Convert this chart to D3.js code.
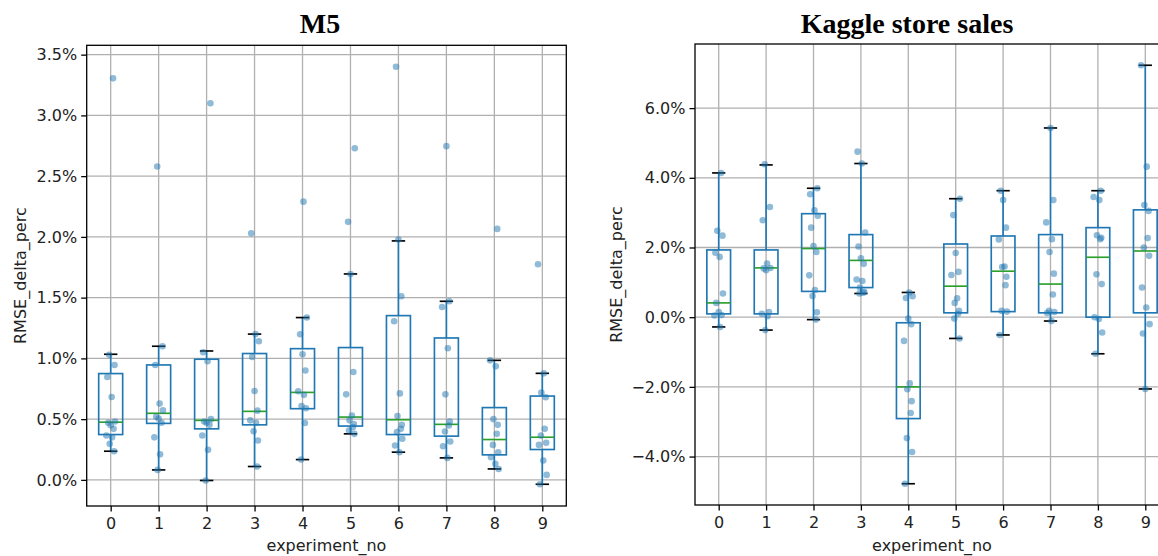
<!DOCTYPE html>
<html><head><meta charset="utf-8">
<script src="https://cdn.jsdelivr.net/npm/d3@7"></script>
<style>body{margin:0;background:#fff}</style>
</head><body><svg id="c" width="1158" height="556"></svg>
<script>
// ---------------- DATA ----------------
const experiments = [0,1,2,3,4,5,6,7,8,9];
const titles = ["M5", "Kaggle store sales"];
const xLabel = "experiment_no";
const yLabel = "RMSE_delta_perc";

// M5 (values in %)
const m5Q1     = [0.373,0.465,0.420,0.453,0.586,0.443,0.373,0.360,0.206,0.250];
const m5Median = [0.475,0.548,0.490,0.564,0.720,0.517,0.495,0.457,0.332,0.351];
const m5Q3     = [0.875,0.946,0.993,1.040,1.080,1.089,1.352,1.168,0.595,0.690];
const m5Low    = [0.236,0.082,-0.005,0.110,0.167,0.379,0.228,0.181,0.090,-0.036];
const m5High   = [1.034,1.100,1.061,1.200,1.336,1.695,1.967,1.470,0.984,0.877];
const m5Points = [
  [3.305,1.03,0.946,0.847,0.682,0.48,0.47,0.45,0.42,0.365,0.35,0.297,0.236],
  [2.58,1.10,0.946,0.628,0.572,0.52,0.504,0.47,0.35,0.21,0.082],
  [3.10,1.05,0.976,0.50,0.48,0.47,0.453,0.365,0.247,-0.005],
  [2.03,1.20,1.141,1.012,0.732,0.57,0.49,0.47,0.40,0.324,0.11],
  [2.29,1.336,1.199,1.034,0.90,0.73,0.70,0.608,0.59,0.468,0.167],
  [2.73,2.124,1.695,0.888,0.704,0.53,0.49,0.46,0.434,0.406,0.379],
  [3.40,1.978,1.511,1.306,0.712,0.526,0.453,0.42,0.393,0.338,0.283,0.228],
  [2.747,1.47,1.423,1.083,0.704,0.48,0.448,0.398,0.316,0.277,0.181],
  [2.066,0.984,0.935,0.50,0.453,0.379,0.288,0.228,0.187,0.132,0.09],
  [1.775,0.877,0.718,0.68,0.42,0.365,0.305,0.288,0.159,0.041,-0.036]
];
const m5Ticks = [0,0.5,1.0,1.5,2.0,2.5,3.0,3.5];

// Kaggle store sales (values in %)
const kgQ1     = [0.095,0.095,0.74,0.85,-2.91,0.125,0.16,0.125,0.0,0.125];
const kgMedian = [0.41,1.415,1.97,1.63,-2.0,0.89,1.32,0.95,1.72,1.90];
const kgQ3     = [1.93,1.93,2.97,2.37,-0.16,2.10,2.33,2.37,2.57,3.08];
const kgLow    = [-0.28,-0.37,-0.07,0.68,-4.78,-0.61,-0.51,-0.11,-1.05,-2.06];
const kgHigh   = [4.14,4.37,3.70,4.41,0.71,3.40,3.63,5.43,3.63,7.23];
const kgPoints = [
  [4.14,2.48,2.34,1.85,1.73,0.68,0.41,0.15,0.06,0.05,-0.28],
  [4.39,3.16,2.78,1.54,1.41,1.40,1.35,0.15,0.10,0.03,-0.37],
  [3.70,3.53,3.07,2.91,2.57,2.04,1.87,1.20,0.78,0.61,0.14,-0.07],
  [4.75,4.41,2.43,2.03,1.69,1.53,1.08,1.04,0.85,0.73,0.70,0.68],
  [0.71,0.60,0.55,-0.04,-0.20,-0.68,-1.90,-2.07,-2.41,-2.75,-3.47,-3.87,-4.78],
  [3.40,2.93,1.84,1.30,1.21,0.545,0.41,0.18,0.10,-0.04,-0.61],
  [3.63,3.36,2.57,2.23,1.455,1.44,1.16,0.92,0.18,0.16,-0.51],
  [5.43,3.36,2.72,2.24,1.87,1.25,0.65,0.18,0.15,0.12,-0.11],
  [3.63,3.45,3.36,2.35,2.28,2.24,1.23,0.95,0.0,-0.05,-0.44,-1.05],
  [7.23,4.32,3.22,3.05,2.27,2.0,1.76,0.85,0.28,-0.20,-0.47,-2.06]
];
const kgTicks = [-4,-2,0,2,4,6];

// ---------------- DRAW ----------------
const svg = d3.select("#c");
const FONT = "DejaVu Sans, sans-serif";
const BLUE = "#1f77b4", GREEN = "#2ca02c", GRID = "#b0b0b0";
const jit = [0.05,-0.03,0.08,-0.07,0.02,0.09,-0.05,0.0,0.06,-0.09,0.03,-0.02,0.07];

function panel(cfg) {
  const x = d3.scaleLinear().domain([-0.5, 9.5]).range([cfg.left, cfg.right]);
  const y = d3.scaleLinear().domain(cfg.ydom).range([cfg.bottom, cfg.top]);
  const g = svg.append("g");
  const step = x(1) - x(0);

  // grid
  g.selectAll(".gx").data(experiments).join("line")
    .attr("x1", d => x(d)).attr("x2", d => x(d))
    .attr("y1", cfg.top).attr("y2", cfg.bottom)
    .attr("stroke", GRID).attr("stroke-width", 1.3);
  g.selectAll(".gy").data(cfg.ticks).join("line")
    .attr("x1", cfg.left).attr("x2", cfg.right)
    .attr("y1", d => y(d)).attr("y2", d => y(d))
    .attr("stroke", GRID).attr("stroke-width", 1.3);

  const bw = step * 0.5, cw = step * 0.28;
  const bx = g.selectAll(".box").data(experiments).join("g");
  // whiskers
  bx.append("line").attr("x1", d => x(d)).attr("x2", d => x(d))
    .attr("y1", (d,i) => y(cfg.q3[i])).attr("y2", (d,i) => y(cfg.hi[i]))
    .attr("stroke", BLUE).attr("stroke-width", 1.65);
  bx.append("line").attr("x1", d => x(d)).attr("x2", d => x(d))
    .attr("y1", (d,i) => y(cfg.q1[i])).attr("y2", (d,i) => y(cfg.lo[i]))
    .attr("stroke", BLUE).attr("stroke-width", 1.65);
  // caps
  ["hi","lo"].forEach(k => {
    bx.append("line").attr("x1", d => x(d) - cw/2).attr("x2", d => x(d) + cw/2)
      .attr("y1", (d,i) => y(cfg[k][i])).attr("y2", (d,i) => y(cfg[k][i]))
      .attr("stroke", "#000").attr("stroke-width", 1.65);
  });
  // box
  bx.append("rect").attr("x", d => x(d) - bw/2).attr("width", bw)
    .attr("y", (d,i) => y(cfg.q3[i])).attr("height", (d,i) => y(cfg.q1[i]) - y(cfg.q3[i]))
    .attr("fill", "none").attr("stroke", BLUE).attr("stroke-width", 1.65);
  // median
  bx.append("line").attr("x1", d => x(d) - bw/2).attr("x2", d => x(d) + bw/2)
    .attr("y1", (d,i) => y(cfg.med[i])).attr("y2", (d,i) => y(cfg.med[i]))
    .attr("stroke", GREEN).attr("stroke-width", 1.65);

  // points
  const pts = [];
  cfg.points.forEach((arr, i) => arr.forEach((v, j) => pts.push({e: experiments[i], v, j})));
  g.selectAll(".pt").data(pts).join("circle")
    .attr("cx", d => x(d.e + jit[(d.j + d.e) % jit.length]))
    .attr("cy", d => y(d.v)).attr("r", 3.3)
    .attr("fill", BLUE).attr("fill-opacity", 0.5);

  // spines
  g.append("rect").attr("x", cfg.left).attr("y", cfg.top)
    .attr("width", cfg.right - cfg.left).attr("height", cfg.bottom - cfg.top)
    .attr("fill", "none").attr("stroke", "#000").attr("stroke-width", 1.3);

  // axes
  const fmt = d3.format(".1f");
  const ya = g.append("g").attr("transform", `translate(${cfg.left},0)`)
    .call(d3.axisLeft(y).tickValues(cfg.ticks).tickFormat(d => fmt(d) + "%").tickSize(5.5).tickPadding(4));
  const xa = g.append("g").attr("transform", `translate(0,${cfg.bottom})`)
    .call(d3.axisBottom(x).tickValues(experiments).tickFormat(d3.format("d")).tickSize(5.5).tickPadding(6));
  [ya, xa].forEach(a => {
    a.select(".domain").remove();
    a.selectAll(".tick line").attr("stroke", "#000").attr("stroke-width", 1.3);
    a.selectAll("text").attr("font-family", FONT).attr("font-size", 16).attr("fill", "#222");
  });

  // labels
  svg.append("text").attr("x", (cfg.left + cfg.right)/2).attr("y", 551)
    .attr("text-anchor", "middle").attr("font-family", FONT).attr("font-size", 16)
    .attr("fill", "#222").text(xLabel);
  svg.append("text").attr("transform", `translate(${cfg.ylx},${(cfg.top + cfg.bottom)/2}) rotate(-90)`)
    .attr("text-anchor", "middle").attr("font-family", FONT).attr("font-size", 16)
    .attr("fill", "#222").text(yLabel);
  svg.append("text").attr("x", cfg.titleX).attr("y", 33)
    .attr("text-anchor", "middle").attr("font-family", "Liberation Serif, Times New Roman, serif")
    .attr("font-weight", "bold").attr("font-size", 28).attr("fill", "#000").text(cfg.title);
}

panel({left: 86.7, right: 566.3, top: 45.3, bottom: 506, ydom: [-0.215, 3.577],
  q1: m5Q1, med: m5Median, q3: m5Q3, lo: m5Low, hi: m5High, points: m5Points,
  ticks: m5Ticks, ylx: 26, titleX: 320, title: titles[0]});
panel({left: 695, right: 1169, top: 44, bottom: 505, ydom: [-5.39, 7.84],
  q1: kgQ1, med: kgMedian, q3: kgQ3, lo: kgLow, hi: kgHigh, points: kgPoints,
  ticks: kgTicks, ylx: 622, titleX: 907, title: titles[1]});
</script>
</body></html>
